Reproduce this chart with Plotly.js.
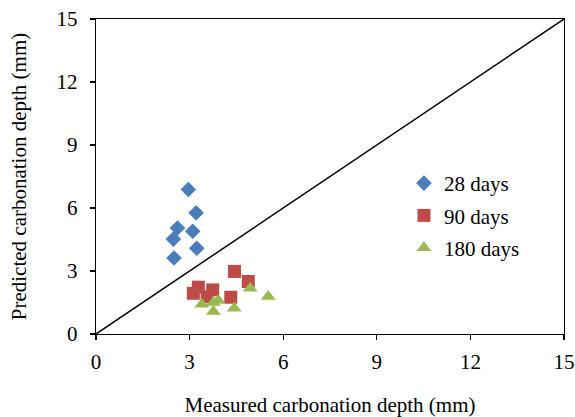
<!DOCTYPE html>
<html>
<head>
<meta charset="utf-8">
<script src="https://cdn.plot.ly/plotly-3.0.1.min.js"></script>
<style>html,body{margin:0;padding:0;background:#fff;}#chart{width:575px;height:417px;}</style>
</head>
<body>
<div id="chart"></div>
<script>
const seriesNames = ["28 days", "90 days", "180 days"];
const measured28 = [2.96, 3.21, 2.61, 3.10, 2.48, 3.23, 2.50];
const predicted28 = [6.88, 5.77, 5.05, 4.89, 4.52, 4.08, 3.62];
const measured90 = [4.44, 4.88, 3.28, 3.74, 3.12, 4.32, 3.56];
const predicted90 = [2.98, 2.50, 2.23, 2.10, 1.94, 1.75, 1.77];
const measured180 = [4.94, 5.52, 3.39, 3.76, 3.92, 3.76, 4.43];
const predicted180 = [2.18, 1.78, 1.42, 1.50, 1.59, 1.07, 1.23];
const lineX = [0, 15];
const lineY = [0, 15];
const tickVals = [0, 3, 6, 9, 12, 15];

const font = "Liberation Serif";
const traces = [
  {x: lineX, y: lineY, mode: "lines", line: {color: "#000", width: 1.5}, showlegend: false, hoverinfo: "skip"},
  {x: measured28, y: predicted28, mode: "markers", name: seriesNames[0], legendgroup: "a",
   marker: {symbol: "diamond", size: 12, color: "#4A7EBB"}},
  {x: measured90, y: predicted90, mode: "markers", name: seriesNames[1], legendgroup: "b",
   marker: {symbol: "square", size: 13, color: "#BE4B48"}},
  {x: measured180, y: predicted180, mode: "markers", name: seriesNames[2], legendgroup: "c",
   marker: {symbol: "triangle-up", size: 13, color: "#98B954"}}
];
const axisCommon = {
  range: [0, 15], tickvals: tickVals, showgrid: false, zeroline: false,
  showline: true, linecolor: "#000", linewidth: 1.2, mirror: true,
  ticks: "outside", ticklen: 5, tickcolor: "#000", tickwidth: 1.2,
  tickfont: {family: font, size: 21, color: "#000"}
};
const layout = {
  width: 575, height: 417,
  margin: {l: 96, r: 11, t: 19, b: 83},
  paper_bgcolor: "#fff", plot_bgcolor: "#fff",
  font: {family: font, color: "#000"},
  xaxis: Object.assign({}, axisCommon, {
    ticklabelstandoff: 4,
    title: {text: "Measured carbonation depth (mm)", font: {family: font, size: 21, color: "#000"}, standoff: 24}
  }),
  yaxis: Object.assign({}, axisCommon, {
    ticklabelstandoff: 8,
    title: {text: "Predicted carbonation depth (mm)", font: {family: font, size: 21, color: "#000"}, standoff: 24}
  }),
  legend: {x: 0.658, y: 0.543, xanchor: "left", yanchor: "top",
    font: {family: font, size: 21, color: "#000"}, tracegroupgap: 2, traceorder: "grouped",
    bgcolor: "rgba(0,0,0,0)"},
  showlegend: true
};
Plotly.newPlot("chart", traces, layout, {displayModeBar: false, staticPlot: true});
</script>
</body>
</html>
